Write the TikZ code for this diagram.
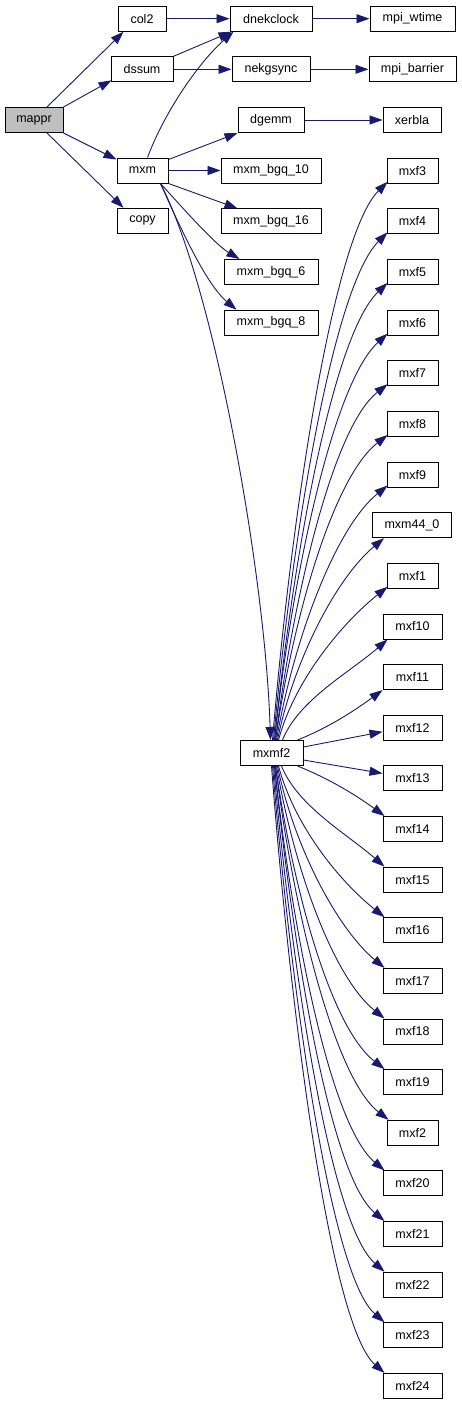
\documentclass[tikz,border=0pt]{standalone}
\usepackage{fontspec}
\setmainfont{Liberation Sans}
\usetikzlibrary{arrows.meta}
\definecolor{edgec}{HTML}{191970}
\definecolor{boxgray}{HTML}{BFBFBF}
\begin{document}
\begin{tikzpicture}[x=1pt,y=1pt,
  box/.style={draw=black, line width=1pt, fill=white, minimum height=25pt, inner sep=0pt, font=\fontsize{12.5}{14}\selectfont},
  edge/.style={draw=edgec, line width=0.9pt, -{Triangle[length=13pt,width=9pt]}}
]
\path[fill=white,use as bounding box] (0,0) rectangle (461,-1405);
% column A/B
\node[box, fill=boxgray, minimum width=58pt] (mappr) at (34,-120) {mappr};
\node[box, minimum width=48pt] (col2) at (142,-18.7) {col2};
\node[box, minimum width=62pt] (dssum) at (142,-69.3) {dssum};
\node[box, minimum width=51pt] (mxm) at (142.5,-170.5) {mxm};
\node[box, minimum width=51pt] (copy) at (142.5,-220.8) {copy};
% column C
\node[box, minimum width=82pt] (dnekclock) at (271,-18.7) {dnekclock};
\node[box, minimum width=78pt] (nekgsync) at (271,-69.3) {nekgsync};
\node[box, minimum width=66pt] (dgemm) at (271,-120) {dgemm};
\node[box, minimum width=100pt] (mxm_bgq_10) at (271,-170.5) {mxm\_bgq\_10};
\node[box, minimum width=100pt] (mxm_bgq_16) at (271,-221.4) {mxm\_bgq\_16};
\node[box, minimum width=94pt] (mxm_bgq_6) at (271,-272) {mxm\_bgq\_6};
\node[box, minimum width=94pt] (mxm_bgq_8) at (271,-322.7) {mxm\_bgq\_8};
\node[box, minimum width=63pt] (mxmf2) at (271.5,-753) {mxmf2};
% column D
\node[box, minimum width=85pt] (mpi_wtime) at (412.5,-18.7) {mpi\_wtime};
\node[box, minimum width=87pt] (mpi_barrier) at (412.5,-69.3) {mpi\_barrier};
\node[box, minimum width=58pt] (xerbla) at (412,-120) {xerbla};
\node[box, minimum width=51pt] (mxf3) at (412.5,-170.8) {mxf3};
\node[box, minimum width=51pt] (mxf4) at (412.5,-221.4) {mxf4};
\node[box, minimum width=51pt] (mxf5) at (412.5,-272.0) {mxf5};
\node[box, minimum width=51pt] (mxf6) at (412.5,-322.7) {mxf6};
\node[box, minimum width=51pt] (mxf7) at (412.5,-373.3) {mxf7};
\node[box, minimum width=51pt] (mxf8) at (412.5,-424.0) {mxf8};
\node[box, minimum width=51pt] (mxf9) at (412.5,-474.6) {mxf9};
\node[box, minimum width=79pt] (mxm44_0) at (412,-525.2) {mxm44\_0};
\node[box, minimum width=51pt] (mxf1) at (412.5,-575.8) {mxf1};
\node[box, minimum width=59pt] (mxf10) at (412.5,-626.5) {mxf10};
\node[box, minimum width=59pt] (mxf11) at (412.5,-677.1) {mxf11};
\node[box, minimum width=59pt] (mxf12) at (412.5,-727.7) {mxf12};
\node[box, minimum width=59pt] (mxf13) at (412.5,-778.4) {mxf13};
\node[box, minimum width=59pt] (mxf14) at (412.5,-829.0) {mxf14};
\node[box, minimum width=59pt] (mxf15) at (412.5,-879.6) {mxf15};
\node[box, minimum width=59pt] (mxf16) at (412.5,-930.2) {mxf16};
\node[box, minimum width=59pt] (mxf17) at (412.5,-980.9) {mxf17};
\node[box, minimum width=59pt] (mxf18) at (412.5,-1031.5) {mxf18};
\node[box, minimum width=59pt] (mxf19) at (412.5,-1082.1) {mxf19};
\node[box, minimum width=51pt] (mxf2) at (412.5,-1132.8) {mxf2};
\node[box, minimum width=59pt] (mxf20) at (412.5,-1183.4) {mxf20};
\node[box, minimum width=59pt] (mxf21) at (412.5,-1234.0) {mxf21};
\node[box, minimum width=59pt] (mxf22) at (412.5,-1284.7) {mxf22};
\node[box, minimum width=59pt] (mxf23) at (412.5,-1335.3) {mxf23};
\node[box, minimum width=59pt] (mxf24) at (412.5,-1385.9) {mxf24};
% edges from mappr
\draw[edge] ([xshift=13pt]mappr.north) -- ([xshift=6pt]col2.south west);
\draw[edge] (mappr.north east) -- ([shift={(1pt,2pt)}]dssum.south west);
\draw[edge] (mappr.south east) -- ([yshift=-2pt]mxm.north west);
\draw[edge] ([xshift=13pt]mappr.south) -- ([xshift=7pt]copy.north west);
% col2, dssum
\draw[edge] (col2.east) -- (dnekclock.west);
\draw[edge] (dssum.north east) -- ([xshift=2pt]dnekclock.south west);
\draw[edge] (dssum.east) -- (nekgsync.west);
% mxm
\draw[edge] ([xshift=5pt]mxm.north) .. controls +(18,48) and +(-33,-29) .. ([xshift=4pt]dnekclock.south west);
\draw[edge] ([yshift=-2pt]mxm.north east) -- (dgemm.south west);
\draw[edge] (mxm.east) -- (mxm_bgq_10.west);
\draw[edge] (mxm.south east) -- ([xshift=17pt]mxm_bgq_16.north west);
\draw[edge] ([xshift=-8pt]mxm.south east) .. controls +(20,-22) and +(-25,15) .. ([xshift=16pt]mxm_bgq_6.north west);
\draw[edge] ([xshift=-8pt]mxm.south east) .. controls +(20,-45) and +(-30,25) .. ([xshift=13pt]mxm_bgq_8.north west);
\draw[edge] ([xshift=-8pt]mxm.south east) .. controls +(55,-107) and +(-5,161) .. ([xshift=-1pt]mxmf2.north);
% column C -> D
\draw[edge] (dnekclock.east) -- (mpi_wtime.west);
\draw[edge] (nekgsync.east) -- (mpi_barrier.west);
\draw[edge] (dgemm.east) -- (xerbla.west);
% mxmf2 upward
\draw[edge] ([xshift=1pt]mxmf2.north) .. controls +(18,218) and +(-55,-55) .. ([shift={(1pt,2pt)}]mxf3.south west);
\draw[edge] ([xshift=2pt]mxmf2.north) .. controls +(18,198) and +(-55,-55) .. ([shift={(1pt,2pt)}]mxf4.south west);
\draw[edge] ([xshift=3pt]mxmf2.north) .. controls +(18,179) and +(-55,-52) .. ([shift={(1pt,2pt)}]mxf5.south west);
\draw[edge] ([xshift=3pt]mxmf2.north) .. controls +(17,159) and +(-55,-50) .. ([shift={(1pt,2pt)}]mxf6.south west);
\draw[edge] ([xshift=4pt]mxmf2.north) .. controls +(17,139) and +(-55,-43) .. ([shift={(1pt,2pt)}]mxf7.south west);
\draw[edge] ([xshift=4pt]mxmf2.north) .. controls +(17,119) and +(-55,-43) .. ([shift={(1pt,2pt)}]mxf8.south west);
\draw[edge] ([xshift=5pt]mxmf2.north) .. controls +(17,100) and +(-52,-42) .. ([shift={(1pt,2pt)}]mxf9.south west);
\draw[edge] ([xshift=6pt]mxmf2.north) .. controls +(16,79) and +(-48,-40) .. ([xshift=12pt]mxm44_0.south west);
\draw[edge] ([xshift=7pt]mxmf2.north) .. controls +(16,60) and +(-45,-36) .. ([shift={(1pt,2pt)}]mxf1.south west);
\draw[edge] ([xshift=11pt]mxmf2.north) .. controls +(16,40) and +(-38,-33) .. ([xshift=5pt]mxf10.south west);
\draw[edge] ([xshift=-6pt]mxmf2.north east) .. controls +(30,12) and +(-30,-22) .. (mxf11.south west);
\draw[edge] ([yshift=6pt]mxmf2.east) -- ([yshift=-4pt]mxf12.west);
% mxmf2 downward
\draw[edge] ([yshift=-7pt]mxmf2.east) -- ([yshift=5pt]mxf13.west);
\draw[edge] ([xshift=-6pt]mxmf2.south east) .. controls +(30,-12) and +(-30,22) .. ([xshift=2pt]mxf14.north west);
\draw[edge] ([xshift=10pt]mxmf2.south) .. controls +(16,-40) and +(-38,33) .. ([xshift=2pt]mxf15.north west);
\draw[edge] ([xshift=7pt]mxmf2.south) .. controls +(16,-60) and +(-45,36) .. ([xshift=2pt]mxf16.north west);
\draw[edge] ([xshift=6pt]mxmf2.south) .. controls +(16,-79) and +(-48,40) .. ([xshift=2pt]mxf17.north west);
\draw[edge] ([xshift=5pt]mxmf2.south) .. controls +(17,-100) and +(-52,42) .. ([xshift=2pt]mxf18.north west);
\draw[edge] ([xshift=4pt]mxmf2.south) .. controls +(17,-119) and +(-55,43) .. ([xshift=2pt]mxf19.north west);
\draw[edge] ([xshift=4pt]mxmf2.south) .. controls +(17,-139) and +(-55,43) .. ([xshift=2pt]mxf2.north west);
\draw[edge] ([xshift=3pt]mxmf2.south) .. controls +(17,-159) and +(-55,46) .. ([xshift=2pt]mxf20.north west);
\draw[edge] ([xshift=3pt]mxmf2.south) .. controls +(18,-179) and +(-55,46) .. ([xshift=2pt]mxf21.north west);
\draw[edge] ([xshift=2pt]mxmf2.south) .. controls +(18,-198) and +(-55,48) .. ([xshift=2pt]mxf22.north west);
\draw[edge] ([xshift=1pt]mxmf2.south) .. controls +(18,-218) and +(-55,48) .. ([xshift=2pt]mxf23.north west);
\draw[edge] (mxmf2.south) .. controls +(18,-237) and +(-55,48) .. ([xshift=2pt]mxf24.north west);
\end{tikzpicture}
\end{document}
